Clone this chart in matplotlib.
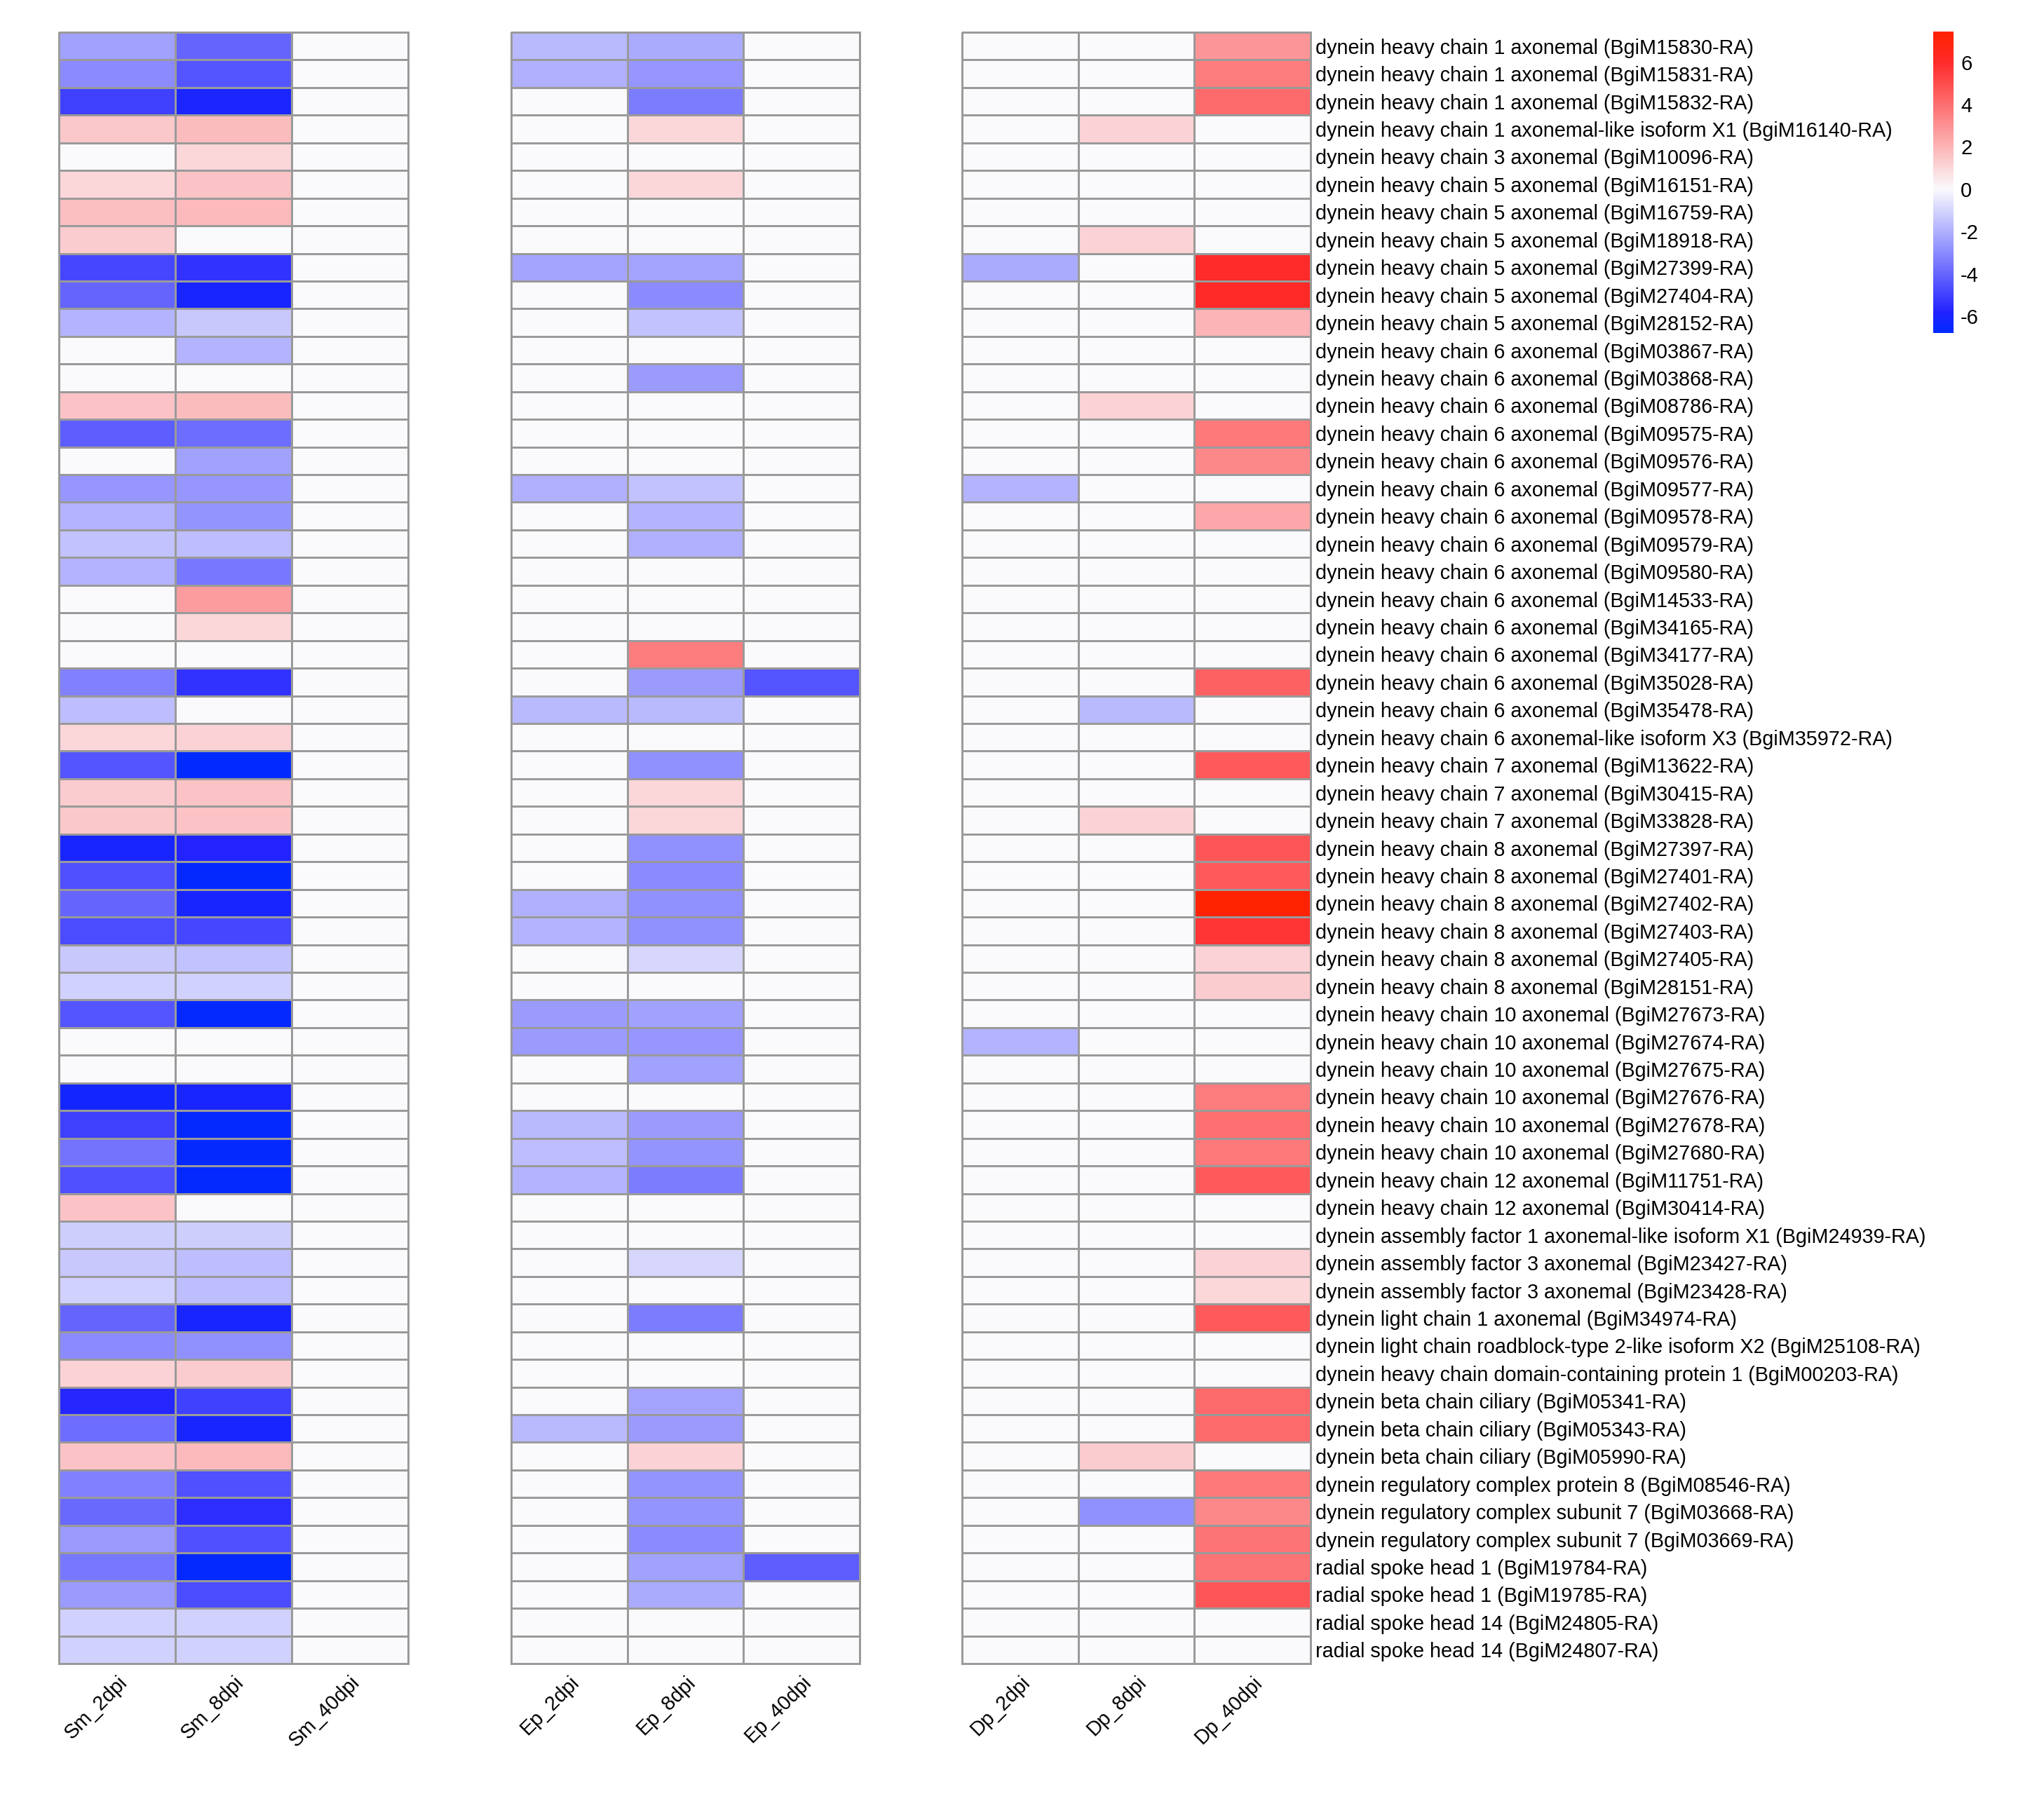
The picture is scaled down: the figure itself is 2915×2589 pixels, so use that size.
import numpy as np
import matplotlib
matplotlib.use("Agg")
import matplotlib.pyplot as plt
from matplotlib.colors import LinearSegmentedColormap, Normalize
from matplotlib.cm import ScalarMappable

plt.rcParams['font.family'] = ['Liberation Sans', 'DejaVu Sans']
plt.rcParams['axes.unicode_minus'] = False

genes = [
    "dynein heavy chain 1 axonemal (BgiM15830-RA)",
    "dynein heavy chain 1 axonemal (BgiM15831-RA)",
    "dynein heavy chain 1 axonemal (BgiM15832-RA)",
    "dynein heavy chain 1 axonemal-like isoform X1 (BgiM16140-RA)",
    "dynein heavy chain 3 axonemal (BgiM10096-RA)",
    "dynein heavy chain 5 axonemal (BgiM16151-RA)",
    "dynein heavy chain 5 axonemal (BgiM16759-RA)",
    "dynein heavy chain 5 axonemal (BgiM18918-RA)",
    "dynein heavy chain 5 axonemal (BgiM27399-RA)",
    "dynein heavy chain 5 axonemal (BgiM27404-RA)",
    "dynein heavy chain 5 axonemal (BgiM28152-RA)",
    "dynein heavy chain 6 axonemal (BgiM03867-RA)",
    "dynein heavy chain 6 axonemal (BgiM03868-RA)",
    "dynein heavy chain 6 axonemal (BgiM08786-RA)",
    "dynein heavy chain 6 axonemal (BgiM09575-RA)",
    "dynein heavy chain 6 axonemal (BgiM09576-RA)",
    "dynein heavy chain 6 axonemal (BgiM09577-RA)",
    "dynein heavy chain 6 axonemal (BgiM09578-RA)",
    "dynein heavy chain 6 axonemal (BgiM09579-RA)",
    "dynein heavy chain 6 axonemal (BgiM09580-RA)",
    "dynein heavy chain 6 axonemal (BgiM14533-RA)",
    "dynein heavy chain 6 axonemal (BgiM34165-RA)",
    "dynein heavy chain 6 axonemal (BgiM34177-RA)",
    "dynein heavy chain 6 axonemal (BgiM35028-RA)",
    "dynein heavy chain 6 axonemal (BgiM35478-RA)",
    "dynein heavy chain 6 axonemal-like isoform X3 (BgiM35972-RA)",
    "dynein heavy chain 7 axonemal (BgiM13622-RA)",
    "dynein heavy chain 7 axonemal (BgiM30415-RA)",
    "dynein heavy chain 7 axonemal (BgiM33828-RA)",
    "dynein heavy chain 8 axonemal (BgiM27397-RA)",
    "dynein heavy chain 8 axonemal (BgiM27401-RA)",
    "dynein heavy chain 8 axonemal (BgiM27402-RA)",
    "dynein heavy chain 8 axonemal (BgiM27403-RA)",
    "dynein heavy chain 8 axonemal (BgiM27405-RA)",
    "dynein heavy chain 8 axonemal (BgiM28151-RA)",
    "dynein heavy chain 10 axonemal (BgiM27673-RA)",
    "dynein heavy chain 10 axonemal (BgiM27674-RA)",
    "dynein heavy chain 10 axonemal (BgiM27675-RA)",
    "dynein heavy chain 10 axonemal (BgiM27676-RA)",
    "dynein heavy chain 10 axonemal (BgiM27678-RA)",
    "dynein heavy chain 10 axonemal (BgiM27680-RA)",
    "dynein heavy chain 12 axonemal (BgiM11751-RA)",
    "dynein heavy chain 12 axonemal (BgiM30414-RA)",
    "dynein assembly factor 1 axonemal-like isoform X1 (BgiM24939-RA)",
    "dynein assembly factor 3 axonemal (BgiM23427-RA)",
    "dynein assembly factor 3 axonemal (BgiM23428-RA)",
    "dynein light chain 1 axonemal (BgiM34974-RA)",
    "dynein light chain roadblock-type 2-like isoform X2 (BgiM25108-RA)",
    "dynein heavy chain domain-containing protein 1 (BgiM00203-RA)",
    "dynein beta chain ciliary (BgiM05341-RA)",
    "dynein beta chain ciliary (BgiM05343-RA)",
    "dynein beta chain ciliary (BgiM05990-RA)",
    "dynein regulatory complex protein 8 (BgiM08546-RA)",
    "dynein regulatory complex subunit 7 (BgiM03668-RA)",
    "dynein regulatory complex subunit 7 (BgiM03669-RA)",
    "radial spoke head 1 (BgiM19784-RA)",
    "radial spoke head 1 (BgiM19785-RA)",
    "radial spoke head 14 (BgiM24805-RA)",
    "radial spoke head 14 (BgiM24807-RA)",
]

sm_cols = ["Sm_2dpi", "Sm_8dpi", "Sm_40dpi"]
ep_cols = ["Ep_2dpi", "Ep_8dpi", "Ep_40dpi"]
dp_cols = ["Dp_2dpi", "Dp_8dpi", "Dp_40dpi"]

sm_2dpi = [-2.4, -3.0, -5.0, 1.45, 0, 1.0, 1.7, 1.3, -4.85, -4.0,
           -1.9, 0, 0, 1.6, -4.2, 0, -2.7, -1.9, -1.5, -1.9,
           0, 0, 0, -3.25, -1.6, 1.0, -4.45, 1.3, 1.45, -6.1,
           -4.6, -4.0, -4.7, -1.35, -1.1, -4.45, 0, 0, -6.2, -5.0,
           -3.65, -4.6, 1.6, -1.2, -1.35, -1.1, -4.0, -3.0, 1.15, -5.7,
           -3.8, 1.6, -3.25, -3.9, -2.55, -3.5, -2.55, -1.1, -1.1]
sm_8dpi = [-4.0, -4.45, -6.0, 1.8, 1.0, 1.6, 1.85, 0, -5.4, -6.1,
           -1.35, -1.9, 0, 1.8, -3.8, -2.4, -2.7, -2.75, -1.6, -3.5,
           2.7, 1.0, 0, -5.4, 0, 1.15, -6.8, 1.6, 1.6, -5.8,
           -6.7, -6.1, -4.85, -1.5, -1.1, -6.7, 0, 0, -6.1, -6.7,
           -6.7, -6.7, 0, -1.2, -1.6, -1.6, -6.1, -2.85, 1.3, -5.0,
           -6.1, 1.85, -4.6, -5.5, -4.6, -6.7, -4.7, -1.1, -1.1]
sm_40dpi = [0] * 59

ep_2dpi = [-1.75, -2.0, 0, 0, 0, 0, 0, 0, -2.3, 0,
           0, 0, 0, 0, 0, 0, -2.0, 0, 0, 0,
           0, 0, 0, 0, -1.75, 0, 0, 0, 0, 0,
           0, -2.0, -1.9, 0, 0, -2.55, -2.55, 0, 0, -1.75,
           -1.6, -1.9, 0, 0, 0, 0, 0, 0, 0, 0,
           -1.75, 0, 0, 0, 0, 0, 0, 0, 0]
ep_8dpi = [-2.15, -2.7, -3.4, 1.0, 0, 1.0, 0, 0, -2.3, -3.0,
           -1.5, 0, -2.55, 0, 0, 0, -1.5, -1.9, -2.0, 0,
           0, 0, 3.6, -2.55, -1.75, 0, -2.85, 1.0, 1.0, -2.85,
           -3.0, -2.85, -2.85, -0.95, 0, -2.4, -2.7, -2.4, 0, -2.55,
           -2.75, -3.4, 0, 0, -0.95, 0, -3.4, 0, 0, -2.3,
           -2.55, 1.15, -2.75, -2.75, -3.0, -2.4, -2.15, 0, 0]
ep_40dpi = [0, 0, 0, 0, 0, 0, 0, 0, 0, 0,
            0, 0, 0, 0, 0, 0, 0, 0, 0, 0,
            0, 0, 0, -4.45, 0, 0, 0, 0, 0, 0,
            0, 0, 0, 0, 0, 0, 0, 0, 0, 0,
            0, 0, 0, 0, 0, 0, 0, 0, 0, 0,
            0, 0, 0, 0, 0, -4.2, 0, 0, 0]

dp_2dpi = [0, 0, 0, 0, 0, 0, 0, 0, -2.15, 0,
           0, 0, 0, 0, 0, 0, -1.9, 0, 0, 0,
           0, 0, 0, 0, 0, 0, 0, 0, 0, 0,
           0, 0, 0, 0, 0, 0, -1.9, 0, 0, 0,
           0, 0, 0, 0, 0, 0, 0, 0, 0, 0,
           0, 0, 0, 0, 0, 0, 0, 0, 0]
dp_8dpi = [0, 0, 0, 1.15, 0, 0, 0, 1.15, 0, 0,
           0, 0, 0, 1.15, 0, 0, 0, 0, 0, 0,
           0, 0, 0, 0, -1.75, 0, 0, 0, 1.15, 0,
           0, 0, 0, 0, 0, 0, 0, 0, 0, 0,
           0, 0, 0, 0, 0, 0, 0, 0, 0, 0,
           0, 1.3, 0, -2.85, 0, 0, 0, 0, 0]
dp_40dpi = [2.9, 3.6, 4.15, 0, 0, 0, 0, 0, 6.0, 6.1,
            2.0, 0, 0, 0, 3.7, 3.3, 0, 2.4, 0, 0,
            0, 0, 0, 4.4, 0, 0, 4.6, 0, 0, 4.7,
            4.6, 7.45, 5.7, 1.15, 1.3, 0, 0, 0, 3.6, 4.0,
            3.7, 4.6, 0, 0, 1.15, 1.0, 4.6, 0, 0, 4.15,
            4.15, 0, 3.7, 3.3, 3.85, 3.85, 4.7, 0, 0]

panels_data = [
    (sm_cols, [sm_2dpi, sm_8dpi, sm_40dpi]),
    (ep_cols, [ep_2dpi, ep_8dpi, ep_40dpi]),
    (dp_cols, [dp_2dpi, dp_8dpi, dp_40dpi]),
]

# colour scale
all_vals = np.concatenate([np.ravel(c) for _, cl in panels_data for c in cl])
vmin, vmax = float(all_vals.min()), float(all_vals.max())
stop_vals = [vmin, -5.8, 0.0, 6.0, vmax]
stop_cols = ["#002AFF", "#2323FF", "#FAFAFD", "#FF2A2A", "#FF2200"]
pos = [(v - vmin) / (vmax - vmin) for v in stop_vals]
cmap = LinearSegmentedColormap.from_list("bwr_custom", list(zip(pos, stop_cols)), N=512)
norm = Normalize(vmin=vmin, vmax=vmax)

W, H = 2915, 2589
DPI = 300
fig = plt.figure(figsize=(W / DPI, H / DPI), dpi=DPI)
fig.patch.set_facecolor("white")

top_px, bot_px = 46, 2373
panel_x = [(84, 582), (729, 1226), (1372, 1869)]
n = len(genes)
FS = 6.9

for k, ((cols, series), (x0, x1)) in enumerate(zip(panels_data, panel_x)):
    ax = fig.add_axes([x0 / W, 1 - bot_px / H, (x1 - x0) / W, (bot_px - top_px) / H])
    M = np.column_stack([np.asarray(s, dtype=float) for s in series])
    ax.pcolormesh(np.arange(M.shape[1] + 1), np.arange(n + 1), M, cmap=cmap, norm=norm,
                  edgecolors="#9a9a9a", linewidth=0.6, clip_on=False)
    ax.set_xlim(0, M.shape[1])
    ax.set_ylim(n, 0)
    for sp in ax.spines.values():
        sp.set_visible(False)
    ax.set_xticks(np.arange(M.shape[1]) + 0.5)
    ax.set_xticklabels(cols, fontsize=FS)
    plt.setp(ax.get_xticklabels(), rotation=45, ha="right", va="top", rotation_mode="anchor")
    ax.tick_params(axis="x", length=0, pad=3)
    if k == 2:
        ax.yaxis.tick_right()
        ax.set_yticks(np.arange(n) + 0.5)
        ax.set_yticklabels(genes, fontsize=FS)
        ax.tick_params(axis="y", length=0, pad=1.8)
    else:
        ax.set_yticks([])

# colour bar
cax = fig.add_axes([2757 / W, 1 - 475 / H, 29 / W, (475 - 45) / H])
cb = fig.colorbar(ScalarMappable(norm=norm, cmap=cmap), cax=cax)
cb.outline.set_visible(False)
cb.set_ticks([-6, -4, -2, 0, 2, 4, 6])
cb.set_ticklabels(["-6", "-4", "-2", "0", "2", "4", "6"])
cax.tick_params(length=0, pad=2.4, labelsize=7)

fig.savefig("out.png", dpi=DPI, facecolor="white")
